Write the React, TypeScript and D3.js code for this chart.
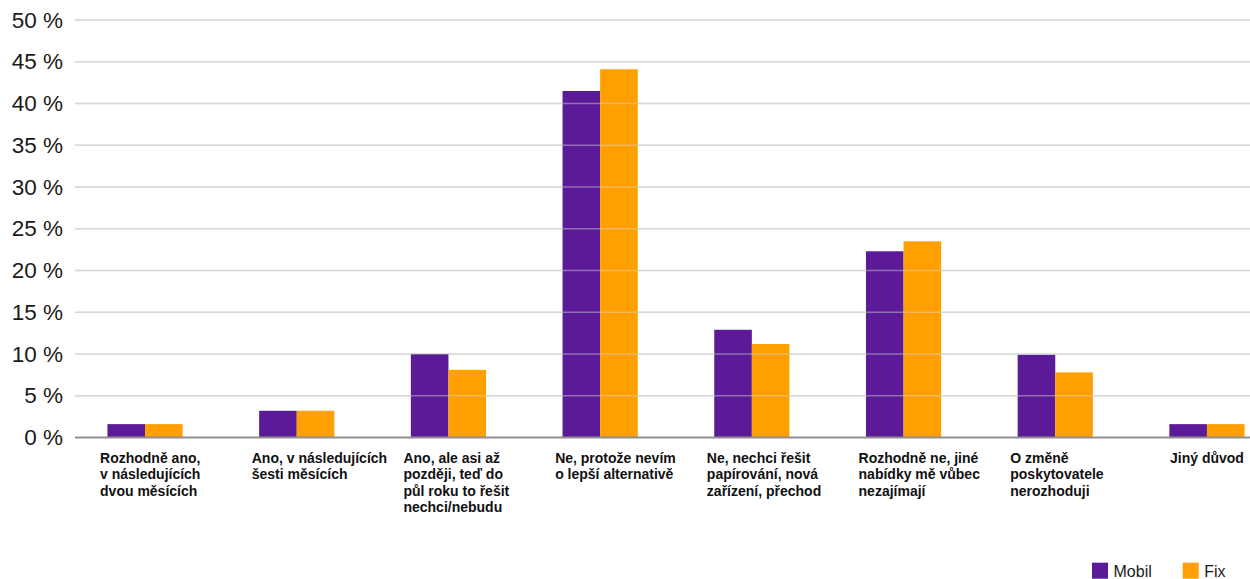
import React from "react";
import * as d3 from "d3";

const categories: string[][] = [
  ["Rozhodně ano,", "v následujících", "dvou měsících"],
  ["Ano, v následujících", "šesti měsících"],
  ["Ano, ale asi až", "později, teď do", "půl roku to řešit", "nechci/nebudu"],
  ["Ne, protože nevím", "o lepší alternativě"],
  ["Ne, nechci řešit", "papírování, nová", "zařízení, přechod"],
  ["Rozhodně ne, jiné", "nabídky mě vůbec", "nezajímají"],
  ["O změně", "poskytovatele", "nerozhoduji"],
  ["Jiný důvod"],
];
const mobil: number[] = [1.6, 3.2, 10.0, 41.5, 12.9, 22.3, 9.9, 1.6];
const fix: number[] = [1.6, 3.2, 8.1, 44.1, 11.2, 23.5, 7.8, 1.6];
const yTicks: number[] = [0, 5, 10, 15, 20, 25, 30, 35, 40, 45, 50];
const seriesNames = ["Mobil", "Fix"];
const colors = ["#5b1a97", "#ff9f00"];

const W = 1250;
const H = 579;

let ctx: CanvasRenderingContext2D | null = null;
function measure(t: string, font: string) {
  if (!ctx) ctx = document.createElement("canvas").getContext("2d");
  if (!ctx) return t.length * 7;
  ctx.font = font;
  return ctx.measureText(t).width;
}

export default function App() {
  const y = d3.scaleLinear().domain([0, 50]).range([437.5, 20]);
  const x = d3
    .scaleBand<number>()
    .domain(d3.range(categories.length))
    .range([69.2, 69.2 + 8 * 151.7])
    .padding(0);
  const barW = 37.6;
  const labelFont = "bold 14px 'Liberation Sans', Arial, sans-serif";

  return (
    <svg
      width={W}
      height={H}
      style={{ position: "absolute", left: 0, top: 0, background: "#fff" }}
      fontFamily="'Liberation Sans', Arial, sans-serif"
    >
      {yTicks.map((t) => (
        <g key={t}>
          {t !== 0 && (
            <line x1={75} x2={W} y1={y(t)} y2={y(t)} stroke="#d8d8d8" strokeWidth={1.5} />
          )}
          <text x={63} y={y(t) + 7.5} textAnchor="end" fontSize={22.5} fill="#1a1a1a">
            {t} %
          </text>
        </g>
      ))}
      {categories.map((_, i) => {
        const c = (x(i) as number) + x.bandwidth() / 2;
        return (
          <g key={i}>
            <rect x={c - barW} y={y(mobil[i])} width={barW} height={y(0) - y(mobil[i])} fill={colors[0]} />
            <rect x={c} y={y(fix[i])} width={barW} height={y(0) - y(fix[i])} fill={colors[1]} />
          </g>
        );
      })}
      {yTicks
        .filter((t) => t !== 0)
        .map((t) => (
          <line key={"o" + t} x1={75} x2={W} y1={y(t)} y2={y(t)} stroke="#d8d8d8" strokeOpacity={0.45} strokeWidth={1.5} />
        ))}
      <line x1={75} x2={W} y1={y(0)} y2={y(0)} stroke="#8f8f8f" strokeWidth={2} />
      {categories.map((lines, i) => {
        const c = (x(i) as number) + x.bandwidth() / 2;
        const w = Math.max(...lines.map((l) => measure(l, labelFont)));
        const lx = c - Math.min(w, 90) / 2;
        return (
          <text key={"l" + i} x={lx} y={y(0) + 25} fontSize={14} fontWeight="bold" fill="#111">
            {lines.map((l, j) => (
              <tspan key={j} x={lx} dy={j === 0 ? 0 : 16.5}>
                {l}
              </tspan>
            ))}
          </text>
        );
      })}
      {seriesNames.map((s, i) => {
        const lx = 1092 + i * 90.7;
        return (
          <g key={s}>
            <rect x={lx} y={562.7} width={16} height={16} fill={colors[i]} />
            <text x={lx + 21.5} y={576.7} fontSize={16} fill="#1a1a1a">
              {s}
            </text>
          </g>
        );
      })}
    </svg>
  );
}
